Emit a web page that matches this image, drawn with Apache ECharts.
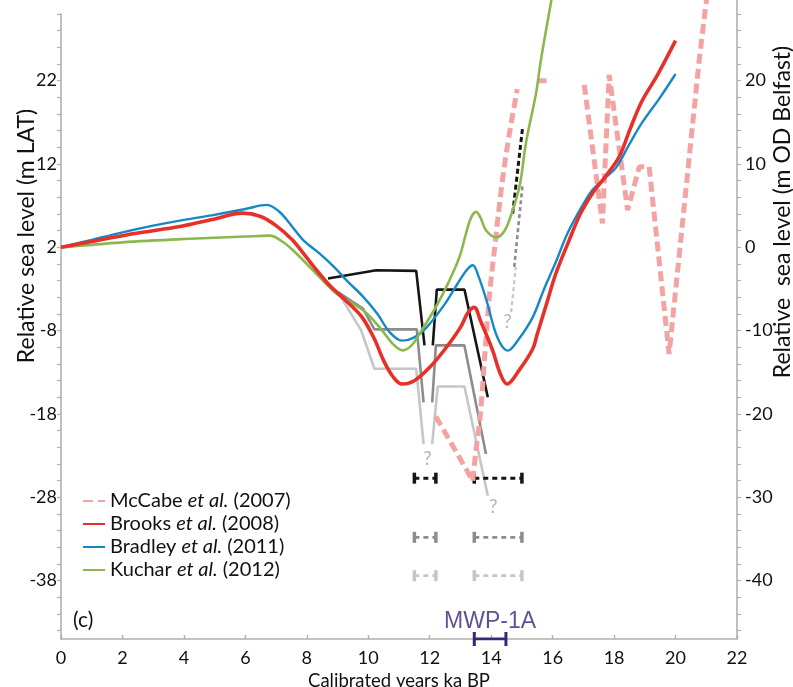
<!DOCTYPE html>
<html><head><meta charset="utf-8">
<script src="https://cdn.jsdelivr.net/npm/echarts@6/dist/echarts.min.js"></script>
<style>html,body{margin:0;padding:0;background:#fff}#c{width:793px;height:687px}</style>
</head><body><div id="c"></div>
<script>
// ---- data (x: calibrated ka BP, y: m LAT) ----
const xTickValues = [0,2,4,6,8,10,12,14,16,18,20,22];
const leftLabelValues = [-38,-28,-18,-8,2,12,22];
const rightLabelValues = [-40,-30,-20,-10,0,10,20];
const legendNames = ['McCabe et al. (2007)','Brooks et al. (2008)','Bradley et al. (2011)','Kuchar et al. (2012)'];

const brooks = [[0,2],[1,2.7],[2,3.4],[3,4.0],[4,4.6],[5,5.4],[5.9,6.1],[6.5,5.7],[7.0,4.6],[7.5,3.0],[7.8,1.7],[8.2,-0.2],[8.7,-2.4],[9.3,-4.5],[9.8,-6.4],[10.2,-9.0],[10.5,-11.6],[10.8,-13.5],[11.1,-14.4],[11.5,-14.0],[12.0,-12.4],[12.5,-10.2],[13.0,-7.6],[13.25,-5.8],[13.45,-5.2],[13.65,-6.8],[14.05,-10.4],[14.3,-13.2],[14.52,-14.4],[14.9,-12.8],[15.35,-10.2],[15.5,-8.4],[15.8,-4.8],[16.1,-1.2],[16.5,2.5],[16.9,6.0],[17.3,8.5],[17.7,10.4],[18.17,12.9],[18.5,16.0],[18.9,19.5],[19.4,22.6],[20.0,26.8]];
const bradley = [[0,2],[1,2.9],[2,3.8],[3,4.6],[4,5.3],[5,5.9],[6,6.6],[6.7,7.1],[7.1,6.3],[7.5,4.6],[7.9,2.8],[8.4,1.3],[8.9,-0.4],[9.3,-2.0],[9.8,-3.8],[10.3,-6.0],[10.7,-8.2],[11.1,-9.2],[11.5,-8.8],[11.9,-7.6],[12.5,-4.75],[12.9,-2.4],[13.2,-0.75],[13.4,-0.15],[13.6,-1.6],[13.85,-4.4],[14.2,-8.8],[14.54,-10.4],[14.9,-9.0],[15.35,-6.4],[15.7,-3.2],[16.1,0.2],[16.5,3.8],[17.0,7.2],[17.3,8.9],[17.7,10.3],[18.07,11.6],[18.5,14.4],[18.9,16.9],[19.5,20.0],[20.0,22.8]];
const kuchar = [[0,2],[2,2.6],[4,3.0],[6,3.3],[6.8,3.4],[7.2,2.7],[7.55,1.65],[8.2,-0.75],[8.96,-3.55],[9.83,-5.56],[10.37,-7.6],[10.8,-9.6],[11.12,-10.37],[11.4,-9.8],[11.67,-8.36],[12.2,-5.16],[12.6,-2.3],[12.97,0.85],[13.18,3.66],[13.35,5.6],[13.51,6.26],[13.65,5.6],[13.83,4.05],[14.16,3.2],[14.4,3.8],[14.59,5.26],[14.92,9.26],[15.13,14.5],[15.46,20.5],[15.62,24.5],[15.96,31.7],[16.05,33.5]];

const mccabeA = [[12.2,-18.3],[13.4,-26.0]];
const mccabeB = [[13.4,-26.0],[13.5,-22.5],[13.65,-18.0],[13.8,-10.5],[13.95,-3.5],[14.1,1.5],[14.25,6.5],[14.4,11.0],[14.6,15.8],[14.85,21.0]];
const mccabeC = [[15.55,22.0],[15.8,22.0]];
const mccabeD = [[17.03,21.5],[17.62,4.86],[17.84,22.7],[18.44,6.46],[18.82,11.66],[19.14,11.66],[19.79,-10.8],[20.77,24.5],[21.05,33]];

const blackA = [[8.69,-1.75],[10.26,-0.75],[11.56,-0.83],[11.83,-9.77]];
const blackB = [[12.1,-9.77],[12.23,-3.07],[13.13,-3.07],[13.89,-15.98]];
const darkA = [[9.01,-3.36],[9.83,-5.36],[10.2,-7.84],[11.58,-7.84],[11.8,-16.6]];
const darkB = [[12.08,-16.6],[12.2,-9.77],[13.13,-9.77],[13.83,-22.8]];
const lightA = [[9.01,-3.36],[9.77,-7.96],[10.2,-12.57],[11.56,-12.57],[11.8,-21.6]];
const lightB = [[12.08,-21.6],[12.26,-14.7],[13.13,-14.7],[13.89,-27.8]];
const blackDash = [[14.7,6.06],[15.02,16.3]];
const darkDash = [[14.75,-0.35],[15.02,9.46]];
const lightDash = [[14.65,-5.76],[14.8,-0.35]];
const questionMarks = [[11.93,-23.4],[14.07,-29.2],[14.53,-7.0]];

const ageBarRows = [-25.7,-32.8,-37.4];
const ageRangeLeft = [11.5,12.2];
const ageRangeRight = [13.45,15.0];
const mwpRange = [13.45,14.48];
const mwpLevel = -45;

// ---- styles ----
const C = {pink:'#f4a3a3', red:'#e8302a', blue:'#1689c5', green:'#8ab84e', black:'#151515', dark:'#8c8c8c', light:'#c6c6c6', q:'#a3a3a3', purple:'#3a2679', axis:'#b3afab'};
const F = 'Lato, "Open Sans", sans-serif';

function line(name, data, color, width, opt){
  return Object.assign({type:'line', name:name, data:data, xAxisIndex:0, yAxisIndex:0, symbol:'none', showSymbol:false,
    lineStyle:{color:color, width:width}, itemStyle:{color:color}, silent:true, animation:false, z:3}, opt||{});
}
const series = [];
series.push(line('env', lightA, C.light, 2.6));
series.push(line('env', lightB, C.light, 2.6));
series.push(line('env', darkA, C.dark, 2.6));
series.push(line('env', darkB, C.dark, 2.6));
series.push(line('env', blackA, C.black, 2.6));
series.push(line('env', blackB, C.black, 2.6));
series.push(line('env', lightDash, C.light, 2.2, {lineStyle:{color:C.light,width:2.2,type:[4,3]}}));
series.push(line('env', darkDash, C.dark, 2.6, {lineStyle:{color:C.dark,width:2.6,type:[4,3]}}));
series.push(line('env', blackDash, C.black, 3, {lineStyle:{color:C.black,width:3,type:[5,3]}}));
const mcStyle = {color:C.pink, width:5, type:[10,5]};
series.push(line(legendNames[0], mccabeA, C.pink, 5, {lineStyle:mcStyle, z:4}));
series.push(line(legendNames[0], mccabeB, C.pink, 5, {lineStyle:mcStyle, smooth:0.3, z:4}));
series.push(line(legendNames[0], mccabeC, C.pink, 5, {lineStyle:mcStyle, z:4}));
series.push(line(legendNames[0], mccabeD, C.pink, 5, {lineStyle:mcStyle, z:4}));
series.push(line(legendNames[2], bradley, C.blue, 2.4, {smooth:0.35, z:5}));
series.push(line(legendNames[3], kuchar, C.green, 2.6, {smooth:0.35, z:5}));
series.push(line(legendNames[1], brooks, C.red, 3.6, {smooth:0.35, z:6}));

// age-range bars
const rowCols = [C.black, C.dark, C.light];
ageBarRows.forEach((y,i)=>{
  [ageRangeLeft, ageRangeRight].forEach(r=>{
    series.push(line('bar', r.map(x=>[x,y]), rowCols[i], i===0?3:2.6,
      {lineStyle:{color:rowCols[i], width:i===0?3:2.6, type:[5,4]}, symbol:'rect', showSymbol:true, symbolSize:[3.5,11]}));
  });
});
// MWP-1A
series.push(line('mwp', mwpRange.map(x=>[x,mwpLevel]), C.purple, 3, {symbol:'rect', showSymbol:true, symbolSize:[3,14], z:8}));
series.push({type:'scatter', xAxisIndex:0, yAxisIndex:0, silent:true, animation:false, symbolSize:0,
  data:[[(mwpRange[0]+mwpRange[1])/2, mwpLevel]],
  label:{show:true, formatter:'MWP-1A', position:'top', distance:6, color:C.purple, fontSize:23, fontFamily:'"Liberation Sans", Arial, sans-serif'}});
// question marks
series.push({type:'scatter', xAxisIndex:0, yAxisIndex:0, silent:true, animation:false, symbolSize:0,
  data:questionMarks,
  label:{show:true, formatter:'?', position:'inside', color:C.q, fontSize:19, fontFamily:F}});

function evenTicks(a,b){const r=[];for(let v=a;v<=b;v+=2)r.push(v);return r;}
const axisLineStyle = {onZero:false, lineStyle:{color:C.axis, width:1.6}};
const labelStyle = {color:'#111', fontSize:18, fontFamily:F};

const option = {
  animation:false,
  backgroundColor:'#fff',
  grid:[{left:61, right:56, top:0, bottom:48, outerBoundsMode:'none', containLabel:false},
        {left:61, right:56, top:14, bottom:48, outerBoundsMode:'none', containLabel:false}],
  xAxis:[
    {type:'value', gridIndex:0, min:0, max:22, interval:2, splitLine:{show:false},
     axisLine:axisLineStyle, axisTick:{show:true, inside:true, length:4, lineStyle:{color:C.axis, width:1.4}},
     axisLabel:Object.assign({margin:10}, labelStyle),
     name:'Calibrated years ka BP', nameLocation:'middle', nameGap:31, nameTextStyle:{color:'#111', fontSize:18.5, fontFamily:F}},
    {type:'value', gridIndex:1, min:0, max:22, show:false}
  ],
  yAxis:[
    {type:'value', gridIndex:0, min:-45, max:31.68, show:false},
    {type:'value', gridIndex:0, position:'right', min:-47, max:29.68, splitLine:{show:false},
     axisLine:axisLineStyle,
     axisTick:{show:true, inside:false, length:4, customValues:evenTicks(-46,28), lineStyle:{color:C.axis, width:1.2}},
     axisLabel:Object.assign({margin:8, customValues:rightLabelValues}, labelStyle)},
    {type:'value', gridIndex:1, position:'left', min:-45, max:30, splitLine:{show:false},
     axisLine:axisLineStyle,
     axisTick:{show:true, inside:false, length:4, customValues:evenTicks(-44,30), lineStyle:{color:C.axis, width:1.2}},
     axisLabel:Object.assign({margin:4, customValues:leftLabelValues}, labelStyle)}
  ],
  legend:{
    data:legendNames, left:77, top:486, orient:'vertical', itemWidth:22, itemHeight:14, itemGap:3,
    selectedMode:false, itemStyle:{opacity:0},
    textStyle:{color:'#111', fontSize:20, fontFamily:F, lineHeight:20,
      rich:{n:{fontSize:20, fontFamily:F, color:'#111', lineHeight:20}, i:{fontSize:20, fontFamily:F, fontStyle:'italic', color:'#111', lineHeight:20}}},
    formatter:function(name){const p=name.split(' et al. ');return '{n|'+p[0]+' }{i|et al.}{n| '+p[1]+'}';}
  },
  graphic:[
    {type:'text', left:73, top:610, style:{text:'(c)', fontSize:21, fontFamily:F, fill:'#111'}},
    {type:'text', x:27, y:236, rotation:Math.PI/2, style:{text:'Relative sea level (m LAT)', fontSize:23, fontFamily:F, fill:'#111', align:'center', verticalAlign:'middle'}},
    {type:'text', x:783, y:212, rotation:Math.PI/2, style:{text:'Relative  sea level (m OD Belfast)', fontSize:23, fontFamily:F, fill:'#111', align:'center', verticalAlign:'middle'}}
  ],
  series:series
};
const chart = echarts.init(document.getElementById('c'), null, {renderer:'canvas'});
chart.setOption(option);
</script></body></html>
